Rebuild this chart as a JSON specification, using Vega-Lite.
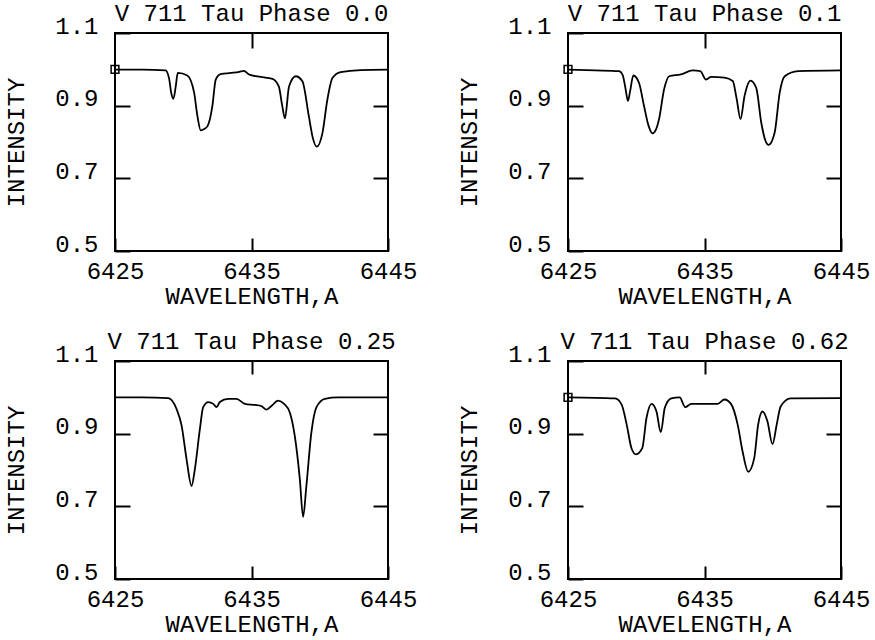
{
  "$schema": "https://vega.github.io/schema/vega-lite/v6.json",
  "background": "white",
  "padding": {"left": 3, "top": 0, "right": 4, "bottom": 0},
  "config": {
    "font": "Liberation Mono",
    "view": {"stroke": "black", "strokeWidth": 2},
    "axis": {
      "grid": false,
      "domain": false,
      "labelFont": "Liberation Mono",
      "labelFontSize": 24,
      "labelColor": "black",
      "titleFont": "Liberation Mono",
      "titleFontSize": 24,
      "titleFontWeight": "normal",
      "titleColor": "black",
      "tickColor": "black",
      "tickWidth": 2
    },
    "title": {
      "font": "Liberation Mono",
      "fontSize": 24,
      "fontWeight": "normal",
      "color": "black",
      "anchor": "middle",
      "frame": "group",
      "baseline": "alphabetic",
      "offset": -11.5
    }
  },
  "datasets": {
    "spec": [
      {"panel": "0.0", "wl": 6425, "intensity": 0.999},
      {"panel": "0.0", "wl": 6427, "intensity": 0.999},
      {"panel": "0.0", "wl": 6428.7, "intensity": 0.997},
      {"panel": "0.0", "wl": 6428.96, "intensity": 0.975},
      {"panel": "0.0", "wl": 6429.12, "intensity": 0.935},
      {"panel": "0.0", "wl": 6429.28, "intensity": 0.919},
      {"panel": "0.0", "wl": 6429.45, "intensity": 0.953},
      {"panel": "0.0", "wl": 6429.6, "intensity": 0.99},
      {"panel": "0.0", "wl": 6430.3, "intensity": 0.983},
      {"panel": "0.0", "wl": 6430.8, "intensity": 0.935},
      {"panel": "0.0", "wl": 6431.04, "intensity": 0.871},
      {"panel": "0.0", "wl": 6431.28, "intensity": 0.832},
      {"panel": "0.0", "wl": 6431.5, "intensity": 0.835},
      {"panel": "0.0", "wl": 6431.77, "intensity": 0.843},
      {"panel": "0.0", "wl": 6432.13, "intensity": 0.898},
      {"panel": "0.0", "wl": 6432.38, "intensity": 0.972},
      {"panel": "0.0", "wl": 6432.74, "intensity": 0.987},
      {"panel": "0.0", "wl": 6433.48, "intensity": 0.99},
      {"panel": "0.0", "wl": 6434.1, "intensity": 0.993},
      {"panel": "0.0", "wl": 6434.45, "intensity": 0.996},
      {"panel": "0.0", "wl": 6434.8, "intensity": 0.986},
      {"panel": "0.0", "wl": 6435.67, "intensity": 0.979},
      {"panel": "0.0", "wl": 6436.53, "intensity": 0.974},
      {"panel": "0.0", "wl": 6437.0, "intensity": 0.953},
      {"panel": "0.0", "wl": 6437.25, "intensity": 0.9},
      {"panel": "0.0", "wl": 6437.45, "intensity": 0.865},
      {"panel": "0.0", "wl": 6437.75, "intensity": 0.953},
      {"panel": "0.0", "wl": 6438.24, "intensity": 0.981},
      {"panel": "0.0", "wl": 6438.73, "intensity": 0.967},
      {"panel": "0.0", "wl": 6439.2, "intensity": 0.871},
      {"panel": "0.0", "wl": 6439.5, "intensity": 0.81},
      {"panel": "0.0", "wl": 6439.78, "intensity": 0.787},
      {"panel": "0.0", "wl": 6440.2, "intensity": 0.825},
      {"panel": "0.0", "wl": 6440.56, "intensity": 0.917},
      {"panel": "0.0", "wl": 6440.93, "intensity": 0.976},
      {"panel": "0.0", "wl": 6441.53, "intensity": 0.992},
      {"panel": "0.0", "wl": 6443, "intensity": 0.998},
      {"panel": "0.0", "wl": 6445, "intensity": 0.999},

      {"panel": "0.1", "wl": 6425, "intensity": 0.999},
      {"panel": "0.1", "wl": 6427, "intensity": 0.997},
      {"panel": "0.1", "wl": 6428.73, "intensity": 0.995},
      {"panel": "0.1", "wl": 6429.0, "intensity": 0.985},
      {"panel": "0.1", "wl": 6429.2, "intensity": 0.95},
      {"panel": "0.1", "wl": 6429.39, "intensity": 0.913},
      {"panel": "0.1", "wl": 6429.55, "intensity": 0.94},
      {"panel": "0.1", "wl": 6429.79, "intensity": 0.983},
      {"panel": "0.1", "wl": 6430.2, "intensity": 0.963},
      {"panel": "0.1", "wl": 6430.57, "intensity": 0.899},
      {"panel": "0.1", "wl": 6430.9, "intensity": 0.845},
      {"panel": "0.1", "wl": 6431.18, "intensity": 0.824},
      {"panel": "0.1", "wl": 6431.45, "intensity": 0.835},
      {"panel": "0.1", "wl": 6431.67, "intensity": 0.863},
      {"panel": "0.1", "wl": 6432.04, "intensity": 0.945},
      {"panel": "0.1", "wl": 6432.41, "intensity": 0.981},
      {"panel": "0.1", "wl": 6433.27, "intensity": 0.986},
      {"panel": "0.1", "wl": 6434.13, "intensity": 0.997},
      {"panel": "0.1", "wl": 6434.69, "intensity": 0.995},
      {"panel": "0.1", "wl": 6435.11, "intensity": 0.972},
      {"panel": "0.1", "wl": 6435.48, "intensity": 0.979},
      {"panel": "0.1", "wl": 6436.46, "intensity": 0.977},
      {"panel": "0.1", "wl": 6437.07, "intensity": 0.968},
      {"panel": "0.1", "wl": 6437.35, "intensity": 0.92},
      {"panel": "0.1", "wl": 6437.64, "intensity": 0.863},
      {"panel": "0.1", "wl": 6437.93, "intensity": 0.926},
      {"panel": "0.1", "wl": 6438.37, "intensity": 0.969},
      {"panel": "0.1", "wl": 6438.79, "intensity": 0.949},
      {"panel": "0.1", "wl": 6439.16, "intensity": 0.853},
      {"panel": "0.1", "wl": 6439.45, "intensity": 0.805},
      {"panel": "0.1", "wl": 6439.7, "intensity": 0.792},
      {"panel": "0.1", "wl": 6440.14, "intensity": 0.826},
      {"panel": "0.1", "wl": 6440.51, "intensity": 0.936},
      {"panel": "0.1", "wl": 6440.88, "intensity": 0.981},
      {"panel": "0.1", "wl": 6441.86, "intensity": 0.995},
      {"panel": "0.1", "wl": 6445, "intensity": 0.997},

      {"panel": "0.25", "wl": 6425, "intensity": 1.0},
      {"panel": "0.25", "wl": 6427, "intensity": 1.0},
      {"panel": "0.25", "wl": 6428.9, "intensity": 0.998},
      {"panel": "0.25", "wl": 6429.51, "intensity": 0.968},
      {"panel": "0.25", "wl": 6429.88, "intensity": 0.922},
      {"panel": "0.25", "wl": 6430.24, "intensity": 0.83},
      {"panel": "0.25", "wl": 6430.61, "intensity": 0.756},
      {"panel": "0.25", "wl": 6430.85, "intensity": 0.802},
      {"panel": "0.25", "wl": 6431.22, "intensity": 0.913},
      {"panel": "0.25", "wl": 6431.46, "intensity": 0.973},
      {"panel": "0.25", "wl": 6431.83, "intensity": 0.987},
      {"panel": "0.25", "wl": 6432.2, "intensity": 0.982},
      {"panel": "0.25", "wl": 6432.44, "intensity": 0.973},
      {"panel": "0.25", "wl": 6432.68, "intensity": 0.987},
      {"panel": "0.25", "wl": 6433.29, "intensity": 0.996},
      {"panel": "0.25", "wl": 6433.9, "intensity": 0.996},
      {"panel": "0.25", "wl": 6434.51, "intensity": 0.982},
      {"panel": "0.25", "wl": 6435.24, "intensity": 0.979},
      {"panel": "0.25", "wl": 6435.73, "intensity": 0.976},
      {"panel": "0.25", "wl": 6436.1, "intensity": 0.966},
      {"panel": "0.25", "wl": 6436.46, "intensity": 0.976},
      {"panel": "0.25", "wl": 6436.95, "intensity": 0.991},
      {"panel": "0.25", "wl": 6437.39, "intensity": 0.982},
      {"panel": "0.25", "wl": 6437.8, "intensity": 0.959},
      {"panel": "0.25", "wl": 6438.17, "intensity": 0.894},
      {"panel": "0.25", "wl": 6438.54, "intensity": 0.775},
      {"panel": "0.25", "wl": 6438.78, "intensity": 0.671},
      {"panel": "0.25", "wl": 6439.02, "intensity": 0.756},
      {"panel": "0.25", "wl": 6439.39, "intensity": 0.904},
      {"panel": "0.25", "wl": 6439.76, "intensity": 0.973},
      {"panel": "0.25", "wl": 6440.37, "intensity": 0.996},
      {"panel": "0.25", "wl": 6441.34, "intensity": 1.0},
      {"panel": "0.25", "wl": 6445, "intensity": 1.0},

      {"panel": "0.62", "wl": 6425, "intensity": 1.0},
      {"panel": "0.62", "wl": 6428.45, "intensity": 0.997},
      {"panel": "0.62", "wl": 6428.93, "intensity": 0.98},
      {"panel": "0.62", "wl": 6429.3, "intensity": 0.925},
      {"panel": "0.62", "wl": 6429.65, "intensity": 0.86},
      {"panel": "0.62", "wl": 6429.98, "intensity": 0.843},
      {"panel": "0.62", "wl": 6430.44, "intensity": 0.86},
      {"panel": "0.62", "wl": 6430.75, "intensity": 0.943},
      {"panel": "0.62", "wl": 6431.12, "intensity": 0.982},
      {"panel": "0.62", "wl": 6431.48, "intensity": 0.961},
      {"panel": "0.62", "wl": 6431.8, "intensity": 0.904},
      {"panel": "0.62", "wl": 6432.09, "intensity": 0.971},
      {"panel": "0.62", "wl": 6432.57, "intensity": 0.997},
      {"panel": "0.62", "wl": 6433.18, "intensity": 1.0},
      {"panel": "0.62", "wl": 6433.59, "intensity": 0.973},
      {"panel": "0.62", "wl": 6434.03, "intensity": 0.982},
      {"panel": "0.62", "wl": 6435.0, "intensity": 0.982},
      {"panel": "0.62", "wl": 6435.97, "intensity": 0.982},
      {"panel": "0.62", "wl": 6436.46, "intensity": 0.994},
      {"panel": "0.62", "wl": 6436.94, "intensity": 0.982},
      {"panel": "0.62", "wl": 6437.43, "intensity": 0.925},
      {"panel": "0.62", "wl": 6437.79, "intensity": 0.851},
      {"panel": "0.62", "wl": 6438.2, "intensity": 0.795},
      {"panel": "0.62", "wl": 6438.64, "intensity": 0.832},
      {"panel": "0.62", "wl": 6438.93, "intensity": 0.925},
      {"panel": "0.62", "wl": 6439.25, "intensity": 0.961},
      {"panel": "0.62", "wl": 6439.61, "intensity": 0.934},
      {"panel": "0.62", "wl": 6439.98, "intensity": 0.871},
      {"panel": "0.62", "wl": 6440.29, "intensity": 0.925},
      {"panel": "0.62", "wl": 6440.58, "intensity": 0.975},
      {"panel": "0.62", "wl": 6441.31, "intensity": 0.997},
      {"panel": "0.62", "wl": 6445, "intensity": 0.998}
    ],
    "marker": [
      {"panel": "0.0", "wl": 6425, "intensity": 1.0},
      {"panel": "0.1", "wl": 6425, "intensity": 1.0},
      {"panel": "0.62", "wl": 6425, "intensity": 1.0}
    ]
  },
  "columns": 2,
  "bounds": "flush",
  "spacing": {"row": 110, "column": 180},
  "concat": [
    {
      "width": 273, "height": 218,
      "title": "V 711 Tau Phase 0.0",
      "layer": [
        {
          "data": {"name": "spec"},
          "transform": [{"filter": "datum.panel == '0.0'"}],
          "mark": {"type": "line", "color": "black", "strokeWidth": 1.8, "interpolate": "monotone"},
          "encoding": {
            "x": {"field": "wl", "type": "quantitative", "scale": {"domain": [6425, 6445], "nice": false, "zero": false},
                  "axis": {"orient": "bottom", "values": [6425, 6435, 6445], "tickSize": -13, "labelPadding": 21, "labelFlush": false, "format": "d", "title": "WAVELENGTH,A", "titlePadding": 1}},
            "y": {"field": "intensity", "type": "quantitative", "scale": {"domain": [0.5, 1.1], "nice": false, "zero": false},
                  "axis": {"orient": "left", "values": [0.5, 0.7, 0.9, 1.1], "tickSize": -15, "labelPadding": 32, "labelBaseline": "alphabetic", "format": ".1f", "title": "INTENSITY", "titlePadding": 26}}
          }
        },
        {
          "data": {"name": "spec"},
          "transform": [{"filter": "datum.panel == '0.0'"}],
          "mark": {"type": "line", "strokeOpacity": 0},
          "encoding": {
            "x": {"field": "wl", "type": "quantitative", "axis": {"orient": "top", "values": [6435], "tickSize": -15, "labels": false, "title": null}},
            "y": {"field": "intensity", "type": "quantitative", "axis": {"orient": "right", "values": [0.7, 0.9], "tickSize": -15, "labels": false, "title": null}}
          }
        },
        {
          "data": {"name": "marker"},
          "transform": [{"filter": "datum.panel == '0.0'"}],
          "mark": {"type": "point", "shape": "square", "filled": false, "color": "black", "size": 60, "strokeWidth": 1.5, "opacity": 1},
          "encoding": {
            "x": {"field": "wl", "type": "quantitative", "axis": null},
            "y": {"field": "intensity", "type": "quantitative", "axis": null}
          }
        }
      ],
      "resolve": {"axis": {"x": "independent", "y": "independent"}}
    },
    {
      "width": 273, "height": 218,
      "title": "V 711 Tau Phase 0.1",
      "layer": [
        {
          "data": {"name": "spec"},
          "transform": [{"filter": "datum.panel == '0.1'"}],
          "mark": {"type": "line", "color": "black", "strokeWidth": 1.8, "interpolate": "monotone"},
          "encoding": {
            "x": {"field": "wl", "type": "quantitative", "scale": {"domain": [6425, 6445], "nice": false, "zero": false},
                  "axis": {"orient": "bottom", "values": [6425, 6435, 6445], "tickSize": -13, "labelPadding": 21, "labelFlush": false, "format": "d", "title": "WAVELENGTH,A", "titlePadding": 1}},
            "y": {"field": "intensity", "type": "quantitative", "scale": {"domain": [0.5, 1.1], "nice": false, "zero": false},
                  "axis": {"orient": "left", "values": [0.5, 0.7, 0.9, 1.1], "tickSize": -15, "labelPadding": 32, "labelBaseline": "alphabetic", "format": ".1f", "title": "INTENSITY", "titlePadding": 26}}
          }
        },
        {
          "data": {"name": "spec"},
          "transform": [{"filter": "datum.panel == '0.1'"}],
          "mark": {"type": "line", "strokeOpacity": 0},
          "encoding": {
            "x": {"field": "wl", "type": "quantitative", "axis": {"orient": "top", "values": [6435], "tickSize": -15, "labels": false, "title": null}},
            "y": {"field": "intensity", "type": "quantitative", "axis": {"orient": "right", "values": [0.7, 0.9], "tickSize": -15, "labels": false, "title": null}}
          }
        },
        {
          "data": {"name": "marker"},
          "transform": [{"filter": "datum.panel == '0.1'"}],
          "mark": {"type": "point", "shape": "square", "filled": false, "color": "black", "size": 60, "strokeWidth": 1.5, "opacity": 1},
          "encoding": {
            "x": {"field": "wl", "type": "quantitative", "axis": null},
            "y": {"field": "intensity", "type": "quantitative", "axis": null}
          }
        }
      ],
      "resolve": {"axis": {"x": "independent", "y": "independent"}}
    },
    {
      "width": 273, "height": 218,
      "title": "V 711 Tau Phase 0.25",
      "layer": [
        {
          "data": {"name": "spec"},
          "transform": [{"filter": "datum.panel == '0.25'"}],
          "mark": {"type": "line", "color": "black", "strokeWidth": 1.8, "interpolate": "monotone"},
          "encoding": {
            "x": {"field": "wl", "type": "quantitative", "scale": {"domain": [6425, 6445], "nice": false, "zero": false},
                  "axis": {"orient": "bottom", "values": [6425, 6435, 6445], "tickSize": -13, "labelPadding": 21, "labelFlush": false, "format": "d", "title": "WAVELENGTH,A", "titlePadding": 1}},
            "y": {"field": "intensity", "type": "quantitative", "scale": {"domain": [0.5, 1.1], "nice": false, "zero": false},
                  "axis": {"orient": "left", "values": [0.5, 0.7, 0.9, 1.1], "tickSize": -15, "labelPadding": 32, "labelBaseline": "alphabetic", "format": ".1f", "title": "INTENSITY", "titlePadding": 26}}
          }
        },
        {
          "data": {"name": "spec"},
          "transform": [{"filter": "datum.panel == '0.25'"}],
          "mark": {"type": "line", "strokeOpacity": 0},
          "encoding": {
            "x": {"field": "wl", "type": "quantitative", "axis": {"orient": "top", "values": [6435], "tickSize": -13, "labels": false, "title": null}},
            "y": {"field": "intensity", "type": "quantitative", "axis": {"orient": "right", "values": [0.7, 0.9], "tickSize": -15, "labels": false, "title": null}}
          }
        }
      ],
      "resolve": {"axis": {"x": "independent", "y": "independent"}}
    },
    {
      "width": 273, "height": 218,
      "title": "V 711 Tau Phase 0.62",
      "layer": [
        {
          "data": {"name": "spec"},
          "transform": [{"filter": "datum.panel == '0.62'"}],
          "mark": {"type": "line", "color": "black", "strokeWidth": 1.8, "interpolate": "monotone"},
          "encoding": {
            "x": {"field": "wl", "type": "quantitative", "scale": {"domain": [6425, 6445], "nice": false, "zero": false},
                  "axis": {"orient": "bottom", "values": [6425, 6435, 6445], "tickSize": -13, "labelPadding": 21, "labelFlush": false, "format": "d", "title": "WAVELENGTH,A", "titlePadding": 1}},
            "y": {"field": "intensity", "type": "quantitative", "scale": {"domain": [0.5, 1.1], "nice": false, "zero": false},
                  "axis": {"orient": "left", "values": [0.5, 0.7, 0.9, 1.1], "tickSize": -15, "labelPadding": 32, "labelBaseline": "alphabetic", "format": ".1f", "title": "INTENSITY", "titlePadding": 26}}
          }
        },
        {
          "data": {"name": "spec"},
          "transform": [{"filter": "datum.panel == '0.62'"}],
          "mark": {"type": "line", "strokeOpacity": 0},
          "encoding": {
            "x": {"field": "wl", "type": "quantitative", "axis": {"orient": "top", "values": [6435], "tickSize": -13, "labels": false, "title": null}},
            "y": {"field": "intensity", "type": "quantitative", "axis": {"orient": "right", "values": [0.7, 0.9], "tickSize": -15, "labels": false, "title": null}}
          }
        },
        {
          "data": {"name": "marker"},
          "transform": [{"filter": "datum.panel == '0.62'"}],
          "mark": {"type": "point", "shape": "square", "filled": false, "color": "black", "size": 60, "strokeWidth": 1.5, "opacity": 1},
          "encoding": {
            "x": {"field": "wl", "type": "quantitative", "axis": null},
            "y": {"field": "intensity", "type": "quantitative", "axis": null}
          }
        }
      ],
      "resolve": {"axis": {"x": "independent", "y": "independent"}}
    }
  ]
}
